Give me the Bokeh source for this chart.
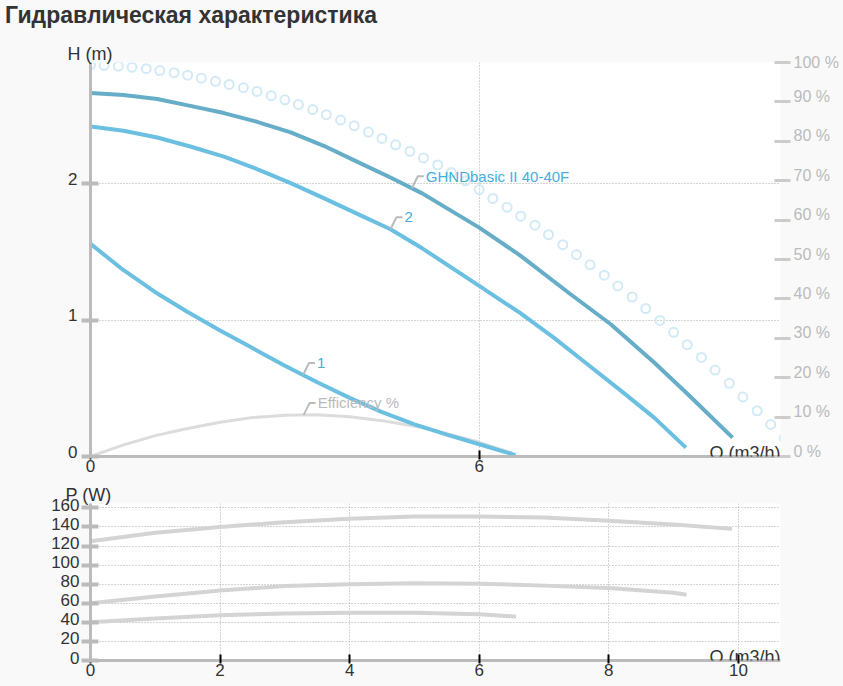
import numpy as np
from bokeh.plotting import figure
from bokeh.models import Range1d, LinearAxis, FixedTicker, Label, Title, Div
from bokeh.layouts import column
from bokeh.embed import file_html
from bokeh.resources import INLINE

FONT = "Liberation Sans"

# ---------------- data ----------------
title_text = "Гидравлическая характеристика"

# H(Q) curves (m)
q_main = [0, 0.51, 1.03, 1.54, 2.06, 2.57, 3.09, 3.60, 4.12, 4.63, 5.12, 6.0, 6.64, 7.41,
          8.03, 8.70, 9.22, 9.91]
h_main = [2.666, 2.651, 2.622, 2.572, 2.519, 2.455, 2.377, 2.279, 2.161, 2.046, 1.93, 1.679,
          1.472, 1.19, 0.97, 0.689, 0.457, 0.138]

q_2 = [0, 0.51, 1.03, 1.54, 2.06, 2.57, 3.09, 3.60, 4.12, 4.63, 5.12, 6.0, 6.64, 7.15,
       7.67, 8.19, 8.70, 9.19]
h_2 = [2.421, 2.389, 2.340, 2.274, 2.200, 2.108, 2.005, 1.895, 1.78, 1.667, 1.527, 1.251,
       1.05, 0.872, 0.677, 0.481, 0.285, 0.065]

q_1 = [0, 0.5, 1, 1.5, 2, 2.5, 3, 3.5, 4, 4.5, 5, 5.5, 6, 6.56]
h_1 = [1.56, 1.37, 1.205, 1.06, 0.925, 0.795, 0.665, 0.545, 0.43, 0.325, 0.235, 0.16, 0.09, 0.01]

# efficiency (%)
q_eff = [0, 0.5, 1, 1.5, 2, 2.5, 3, 3.5, 4, 4.5, 5, 5.5, 6, 6.5]
eff = [0, 2.9, 5.3, 7.1, 8.7, 9.9, 10.5, 10.6, 10.1, 9.1, 7.7, 5.8, 3.6, 0.9]

# dotted curve (m)
q_dots = [0.00, 0.21, 0.43, 0.64, 0.86, 1.07, 1.29, 1.50, 1.71, 1.93, 2.14, 2.36, 2.57,
          2.79, 3.00, 3.21, 3.43, 3.64, 3.86, 4.07, 4.29, 4.50, 4.71, 4.93, 5.14, 5.36,
          5.57, 5.79, 6.00, 6.21, 6.43, 6.64, 6.86, 7.07, 7.29, 7.50, 7.71, 7.93, 8.14,
          8.36, 8.57, 8.79, 9.00, 9.21, 9.43, 9.64, 9.86, 10.07, 10.29, 10.50, 10.71]
h_dots = [2.873, 2.869, 2.863, 2.855, 2.845, 2.831, 2.815, 2.797, 2.775, 2.752, 2.729,
          2.705, 2.678, 2.647, 2.616, 2.582, 2.545, 2.507, 2.468, 2.426, 2.380, 2.333,
          2.286, 2.239, 2.190, 2.139, 2.083, 2.022, 1.958, 1.893, 1.828, 1.763, 1.697,
          1.627, 1.554, 1.480, 1.406, 1.330, 1.251, 1.170, 1.085, 0.998, 0.911, 0.820,
          0.727, 0.634, 0.537, 0.437, 0.335, 0.235, 0.134]

# power curves (W)
q_pA = [0, 1, 2, 3, 4, 5, 6, 7, 8, 9, 9.9]
p_A = [125, 134, 140, 145, 148.5, 151, 151, 150, 146.5, 142.5, 138]
q_pB = [0, 1, 2, 3, 4, 5, 6, 7, 8, 9, 9.2]
p_B = [60, 67, 73.5, 78, 80, 81, 80.5, 78.5, 76, 71, 69]
q_pC = [0, 1, 2, 3, 4, 5, 6, 6.57]
p_C = [40, 44, 47.5, 49.4, 50, 50, 48.5, 46]

top_xticks = [0, 6]
top_yticks = [0, 1, 2]
pct_ticks = [0, 10, 20, 30, 40, 50, 60, 70, 80, 90, 100]
bot_xticks = [0, 2, 4, 6, 8, 10]
bot_yticks = [0, 20, 40, 60, 80, 100, 120, 140, 160]

# ---------------- styling ----------------
BG = "#f9f9f9"
AX = "#bbbbbb"
TXT = "#333333"
C_MAIN = "#66adc8"
C_CURVE = "#6bc0e2"
C_LBL = "#45ade0"
C_EFF = "#dcdcdc"
C_DOTS = "#d2e9f6"
C_POW = "#d4d4d4"

X_END = 10.65
FRAME_W = 690
TOP_H_END = 2.89
TOP_FRAME_H = 394
BOT_P_END = 164.6
BOT_FRAME_H = 157

W = 843
TITLE_H = 36
TOP_FIG_H = 479 - TITLE_H
BOT_FIG_H = 207


def style_axes(p):
    p.outline_line_color = None
    p.background_fill_color = "white"
    p.border_fill_color = BG
    for ax in p.xaxis + p.yaxis:
        ax.axis_line_color = AX
        ax.axis_line_width = 3
        ax.minor_tick_line_color = None
        ax.major_label_text_font = FONT
        ax.major_label_text_color = TXT
    for ax in p.xaxis:
        ax.major_tick_line_color = "black"
        ax.major_tick_line_width = 2
        ax.major_tick_in = 6
        ax.major_tick_out = 3
        ax.major_label_standoff = 0
    for ax in p.yaxis:
        ax.major_tick_line_color = AX
        ax.major_tick_line_width = 4
        ax.major_tick_in = 8
        ax.major_tick_out = 9
        ax.major_label_standoff = 0
    for g in p.xgrid + p.ygrid:
        g.grid_line_color = "#aaaaaa"
        g.grid_line_dash = "1 2"
        g.grid_line_width = 1


def label_axis(range_name, ticks, size, color, standoff, overrides=None):
    """Axis carrying only the tick labels (drawn slightly above their ticks)."""
    ax = LinearAxis(y_range_name=range_name, ticker=FixedTicker(ticks=ticks))
    if overrides:
        ax.major_label_overrides = overrides
    ax.axis_line_color = None
    ax.major_tick_line_color = None
    ax.minor_tick_line_color = None
    ax.major_tick_in = 0
    ax.major_tick_out = 0
    ax.major_label_standoff = standoff
    ax.major_label_text_font = FONT
    ax.major_label_text_font_size = size
    ax.major_label_text_color = color
    return ax


# ---------------- title ----------------
title_div = Div(text=title_text, width=W - 5, height=TITLE_H, margin=0,
                styles={"font-family": FONT, "font-size": "23px", "font-weight": "bold",
                        "color": TXT, "line-height": "27px", "padding-left": "5px",
                        "padding-top": "2px", "background-color": BG})

# ---------------- top chart ----------------
top = figure(width=W, height=TOP_FIG_H, x_range=Range1d(0, X_END),
             y_range=Range1d(0, TOP_H_END),
             output_backend="svg", toolbar_location=None, title=None,
             min_border_left=90, min_border_right=W - 90 - FRAME_W,
             min_border_top=62 - TITLE_H, min_border_bottom=23)
px_x = FRAME_W / X_END
px_h = TOP_FRAME_H / TOP_H_END
px_pct = TOP_FRAME_H / 100.0
sh = 5 / px_h
sp = 5.5 / px_pct
pct_lbl_end = 100 - sp
top.extra_y_ranges = {"pct": Range1d(0, 100),
                      "h_lbl": Range1d(-sh, TOP_H_END - sh),
                      "pct_lbl": Range1d(-sp, pct_lbl_end)}
style_axes(top)
top.xaxis.ticker = FixedTicker(ticks=top_xticks)
top.yaxis.ticker = FixedTicker(ticks=top_yticks)
top.yaxis.major_label_overrides = {t: "" for t in top_yticks}
top.xaxis.major_label_text_font_size = "17px"
top.xgrid.ticker = FixedTicker(ticks=[6])
top.ygrid.ticker = FixedTicker(ticks=[1, 2])
top.add_layout(label_axis("h_lbl", top_yticks, "17px", TXT, 4), "left")

top.add_layout(Title(text="H (m)", align="left", offset=-23, standoff=-3,
                     text_font=FONT, text_font_size="18px", text_font_style="normal",
                     text_color=TXT), "above")

rax = LinearAxis(y_range_name="pct", ticker=FixedTicker(ticks=pct_ticks),
                 major_label_overrides={t: "" for t in pct_ticks})
rax.axis_line_color = None
rax.minor_tick_line_color = None
rax.major_tick_line_color = "#cccccc"
rax.major_tick_line_width = 3
rax.major_tick_in = 6
rax.major_tick_out = 10
rax.major_label_standoff = 0
top.add_layout(rax, "right")

# label positions: each label sits slightly above its tick (the top one stays in range)
pct_lbl_pos = [min(float(t), pct_lbl_end) for t in pct_ticks]
pct_lbl_text = {pos: f"{t} %" for pos, t in zip(pct_lbl_pos, pct_ticks)}
top.add_layout(label_axis("pct_lbl", pct_lbl_pos, "16px", "#bbbbbb", 3, pct_lbl_text),
               "right")

top.scatter(q_dots, h_dots, marker="circle", size=9, fill_color=None,
            line_color=C_DOTS, line_width=2)
top.line(q_eff, eff, y_range_name="pct", line_color=C_EFF, line_width=3)
top.line(q_main, h_main, line_color=C_MAIN, line_width=4)
top.line(q_2, h_2, line_color=C_CURVE, line_width=4)
top.line(q_1, h_1, line_color=C_CURVE, line_width=4)


def callout(qs, vals, q_anchor, text, color, px_y, rng=None):
    h = float(np.interp(q_anchor, qs, vals))
    dx = 6 / px_x
    dy = 12 / px_y
    kw = {"y_range_name": rng} if rng else {}
    top.line([q_anchor, q_anchor + dx, q_anchor + 2 * dx], [h, h + dy, h + dy],
             line_color="#bbbbbb", line_width=2, **kw)
    top.add_layout(Label(x=q_anchor + 2 * dx, y=h + dy, x_offset=2, text=text,
                         text_font=FONT, text_font_size="15px", text_color=color,
                         text_baseline="middle", text_align="left", **kw))


callout(q_main, h_main, 4.96, "GHNDbasic II 40-40F", C_LBL, px_h)
callout(q_2, h_2, 4.63, "2", C_LBL, px_h)
callout(q_1, h_1, 3.28, "1", C_LBL, px_h)
callout(q_eff, eff, 3.29, "Efficiency %", "#bbbbbb", px_pct, "pct")

top.add_layout(Label(x=X_END, y=0, y_offset=4, text="Q (m3/h)", text_font=FONT,
                     text_font_size="18px", text_color=TXT, text_align="right",
                     text_baseline="alphabetic"))

# ---------------- bottom chart ----------------
bot = figure(width=W, height=BOT_FIG_H, x_range=Range1d(0, X_END),
             y_range=Range1d(0, BOT_P_END),
             output_backend="svg", toolbar_location=None, title=None,
             min_border_left=90, min_border_right=W - 90 - FRAME_W,
             min_border_top=24, min_border_bottom=26)
sw = 3 / (BOT_FRAME_H / BOT_P_END)
bot.extra_y_ranges = {"p_lbl": Range1d(-sw, BOT_P_END - sw)}
style_axes(bot)
bot.xaxis.ticker = FixedTicker(ticks=bot_xticks)
bot.yaxis.ticker = FixedTicker(ticks=bot_yticks)
bot.yaxis.major_label_overrides = {t: "" for t in bot_yticks}
bot.xaxis.major_label_text_font_size = "17px"
bot.xgrid.ticker = FixedTicker(ticks=bot_xticks)
bot.ygrid.ticker = FixedTicker(ticks=bot_yticks)
bot.add_layout(label_axis("p_lbl", bot_yticks, "17px", TXT, 2), "left")

bot.line(q_pA, p_A, line_color=C_POW, line_width=4)
bot.line(q_pB, p_B, line_color=C_POW, line_width=4)
bot.line(q_pC, p_C, line_color=C_POW, line_width=4)

bot.add_layout(Title(text="P (W)", align="left", offset=-25, standoff=-2,
                     text_font=FONT, text_font_size="18px", text_font_style="normal",
                     text_color=TXT), "above")
bot.add_layout(Label(x=X_END, y=0, y_offset=4, text="Q (m3/h)", text_font=FONT,
                     text_font_size="18px", text_color=TXT, text_align="right",
                     text_baseline="alphabetic"))

p = column(title_div, top, bot)
p.styles = {"background-color": BG}

open("out.html", "w").write(file_html(p, INLINE))
